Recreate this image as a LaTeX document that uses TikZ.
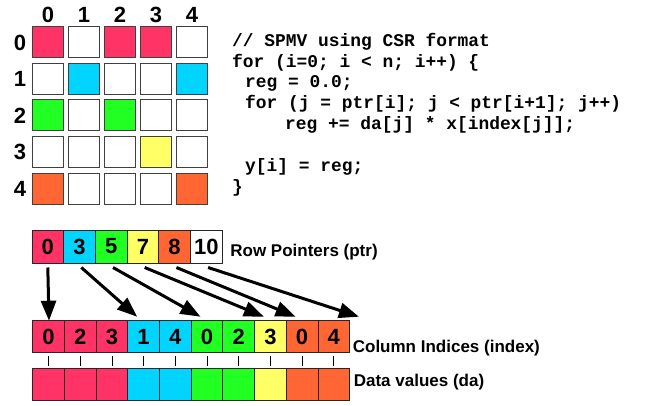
\documentclass[tikz,border=0pt]{standalone}
\usepackage{fontspec}
\setmainfont{Liberation Sans}
\setmonofont{Liberation Mono}
\usepackage{tikz}
\usetikzlibrary{positioning}
\usetikzlibrary{arrows.meta}
\definecolor{nzred}{HTML}{FF3366}
\definecolor{nzcyan}{HTML}{00D4FF}
\definecolor{nzgreen}{HTML}{22FF22}
\definecolor{nzyellow}{HTML}{FFFF66}
\definecolor{nzorange}{HTML}{FF6633}
\tikzstyle{mcell}=[draw=black!75,line width=1pt,minimum size=31pt,inner sep=0pt]
\tikzstyle{acell}=[draw=black!85,line width=0.8pt,minimum width=31.7pt,minimum height=32pt,inner sep=0pt,outer sep=0pt,font=\fontsize{22}{22}\selectfont\bfseries]
\tikzstyle{hdr}=[font=\fontsize{22}{22}\selectfont\bfseries,inner sep=0pt]
\tikzstyle{lbl}=[font=\fontsize{17}{18}\selectfont\bfseries,inner sep=0pt]
\tikzstyle{ptrarrow}=[-{Triangle[length=20pt,width=15pt]},line width=3pt]
\tikzstyle{tick}=[line width=0.8pt]
\def\codefont{\fontsize{17.9}{20.9}\selectfont\ttfamily\bfseries}

\begin{document}
\begin{tikzpicture}[x=1pt,y=-1pt]
  \useasboundingbox (0,0) rectangle (652,406);
  % the 5x5 sparse matrix
  \foreach \r/\row in {0/{nzred,white,nzred,nzred,white},
                       1/{white,nzcyan,white,white,nzcyan},
                       2/{nzgreen,white,nzgreen,white,white},
                       3/{white,white,white,nzyellow,white},
                       4/{nzorange,white,white,white,nzorange}}{
    \node [hdr] (row\r) at (20,{42.5+36.5*\r}) {\r};
    \foreach \clr [count=\c from 0] in \row
      \node [mcell, fill=\clr] (m-\r-\c) at ({48+36*\c},{42.5+36.5*\r}) {};
  }
  \foreach \c in {0,...,4}
    \node [hdr] (col\c) at ({48+36*\c},15) {\c};

  % the kernel (anchored on the baseline of its last line)
  \node [anchor=base west, align=left, font=\codefont, inner sep=0pt] (code) at (232,192.5)
    {// SPMV using CSR format\\
     for (i=0; i < n; i++) \{\\
     \hspace*{13pt}reg = 0.0;\\
     \hspace*{13pt}for (j = ptr[i]; j < ptr[i+1]; j++)\\
     \hspace*{53pt}reg += da[j] * x[index[j]];\\
     \mbox{}\\
     \hspace*{13pt}y[i] = reg;\\
     \}};

  % row pointers
  \node [acell, minimum height=33pt, fill=nzred] (p0) at (47.8,246.5) {0};
  \foreach \v/\clr [count=\k from 1, remember=\k as \j (initially 0)] in
      {3/nzcyan,5/nzgreen,7/nzyellow,8/nzorange,10/white}
    \node [acell, minimum height=33pt, fill=\clr, right=0pt of p\j] (p\k) {\v};
  \node [lbl, anchor=base west] (ptrlbl) at ([xshift=8pt,yshift=6.3pt]p5.south east) {Row Pointers (ptr)};

  % column indices and data values
  \node [acell, fill=nzred] (i0) at (48.5,336.7) {0};
  \node [acell, fill=nzred] (d0) at (48.5,384.2) {};
  \foreach \v/\clr [count=\k from 1, remember=\k as \j (initially 0)] in
      {2/nzred,3/nzred,1/nzcyan,4/nzcyan,0/nzgreen,2/nzgreen,3/nzyellow,0/nzorange,4/nzorange}{
    \node [acell, fill=\clr, right=0pt of i\j] (i\k) {\v};
    \node [acell, fill=\clr, right=0pt of d\j] (d\k) {};
  }
  \node [lbl, anchor=base west] (idxlbl) at ([xshift=3pt]i9.south east) {Column Indices (index)};
  \node [lbl, anchor=base west] (dalbl) at ([xshift=4pt,yshift=13.5pt]d9.south east) {Data values (da)};
  \foreach \k in {0,...,9}
    \draw [tick, shorten <=3.5pt, shorten >=2.5pt] (i\k.south) -- (d\k.north);

  % pointer arrows
  \coordinate (iend) at ([xshift=15.8pt]i9.north east);
  \draw [ptrarrow] ([yshift=-4.5pt]p0.south) -- ([xshift=0.5pt]i0.north);
  \foreach \s/\t in {1/i3.north,2/i5.north,3/i7.north,4/i8.north,5/iend}
    \draw [ptrarrow] ([xshift=1.8pt,yshift=-4.5pt]p\s.south) -- ([xshift=-6.5pt,yshift=4pt]\t);
\end{tikzpicture}
\end{document}
